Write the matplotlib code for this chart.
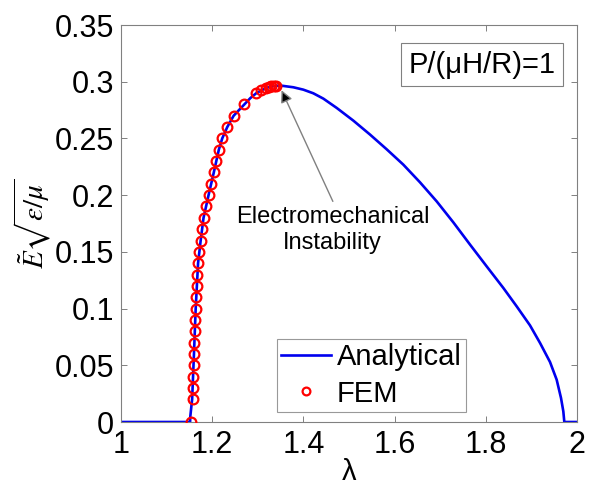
import matplotlib
matplotlib.use("Agg")
import matplotlib.pyplot as plt

# ---- data ----
fem_lambda = [1.1528, 1.158, 1.158, 1.1585, 1.159, 1.160, 1.161, 1.162, 1.163, 1.164,
              1.1645, 1.166, 1.1675, 1.169, 1.171, 1.1747, 1.178, 1.181, 1.1856, 1.192,
              1.198, 1.2035, 1.209, 1.2145, 1.222, 1.233, 1.247, 1.2705, 1.297, 1.307,
              1.318, 1.324, 1.330, 1.335, 1.340]
fem_E = [0.0, 0.02, 0.03, 0.04, 0.05, 0.06, 0.07, 0.08, 0.09, 0.10,
         0.11, 0.12, 0.13, 0.14, 0.15, 0.16, 0.17, 0.18, 0.19, 0.20,
         0.21, 0.22, 0.23, 0.24, 0.25, 0.26, 0.27, 0.28, 0.29, 0.2925,
         0.2945, 0.2955, 0.296, 0.2963, 0.2965]

an_lambda = [1.0, 1.1515, 1.1520, 1.156, 1.158, 1.160, 1.1638, 1.169, 1.1747, 1.181,
             1.192, 1.2035, 1.2145, 1.222, 1.233, 1.247, 1.2705, 1.2835, 1.297, 1.318,
             1.335, 1.350, 1.3779, 1.3998, 1.4217, 1.4437, 1.4730, 1.5095, 1.5461, 1.5827,
             1.6191, 1.6557, 1.6923, 1.7288, 1.7654, 1.8019, 1.8384, 1.8678, 1.8969, 1.9189,
             1.9408, 1.9554, 1.9649, 1.9700, 1.9722, 2.0]
an_E = [0.0, 0.0, 0.005, 0.02, 0.04, 0.06, 0.10, 0.14, 0.16, 0.18,
        0.20, 0.22, 0.24, 0.25, 0.26, 0.27, 0.28, 0.2855, 0.29, 0.2945,
        0.2963, 0.2966, 0.2951, 0.2930, 0.2898, 0.2851, 0.2769, 0.2657, 0.2534, 0.2404,
        0.2269, 0.2113, 0.1945, 0.1760, 0.1564, 0.1372, 0.1182, 0.1019, 0.0852, 0.0697,
        0.0529, 0.0373, 0.0212, 0.0094, 0.0, 0.0]

x_ticks = [1, 1.2, 1.4, 1.6, 1.8, 2]
x_ticklabels = ["1", "1.2", "1.4", "1.6", "1.8", "2"]
y_ticks = [0, 0.05, 0.1, 0.15, 0.2, 0.25, 0.3, 0.35]
y_ticklabels = ["0", "0.05", "0.1", "0.15", "0.2", "0.25", "0.3", "0.35"]

plt.rcParams['font.family'] = ['Liberation Sans', 'DejaVu Sans']
plt.rcParams['mathtext.fontset'] = 'stix'

fig = plt.figure(figsize=(5.89, 4.88), dpi=100)
ax = fig.add_axes([121/589, 1 - 422/488, (577-121)/589, (422-25)/488])

ax.plot(an_lambda, an_E, color='#0000ee', lw=1.9, label='Analytical', zorder=2)
ax.plot(fem_lambda, fem_E, linestyle='none', marker='o', markersize=7,
        markerfacecolor='none', markeredgecolor='#ff0000', markeredgewidth=1.6,
        label='FEM', zorder=3)

ax.set_xlim(1, 2)
ax.set_ylim(0, 0.35)
ax.set_xticks(x_ticks)
ax.set_xticklabels(x_ticklabels)
ax.set_yticks(y_ticks)
ax.set_yticklabels(y_ticklabels)
ax.tick_params(direction='in', length=4, width=0.7, color='#808080',
               labelsize=22, top=True, right=True)
ax.tick_params(axis='x', pad=6)
ax.tick_params(axis='y', pad=5)
for s in ax.spines.values():
    s.set_color('#808080')
    s.set_linewidth(0.8)

ax.set_xlabel('λ', fontsize=21, labelpad=-2)
ax.set_ylabel(r'$\tilde{E}\sqrt{\epsilon/\mu}$', fontsize=21, labelpad=1)

leg = ax.legend(loc='lower left', fontsize=21, frameon=True, fancybox=False,
                handlelength=1.7, handletextpad=0.2, borderpad=0.15,
                labelspacing=0.3, borderaxespad=0.0, markerscale=0.8,
                bbox_to_anchor=((277-121)/456, (422-412)/397))
leg.get_frame().set_edgecolor('#808080')
leg.get_frame().set_linewidth(0.8)

ax.text(1.792, 0.315, 'P/(μH/R)=1', fontsize=21, ha='center', va='center',
        bbox=dict(boxstyle='square,pad=0.25', fc='white', ec='#808080', lw=0.8))

ax.text(1.464, 0.190, 'Electromechanical\nInstability', fontsize=17, ha='center',
        va='top', linespacing=1.2)
ax.annotate('', xy=(1.352, 0.2925), xytext=(1.4646, 0.1945),
            arrowprops=dict(arrowstyle='-|>', ec='#808080', fc='black', lw=1,
                            mutation_scale=18, shrinkA=0, shrinkB=0))

fig.savefig('out.png', dpi=100)
